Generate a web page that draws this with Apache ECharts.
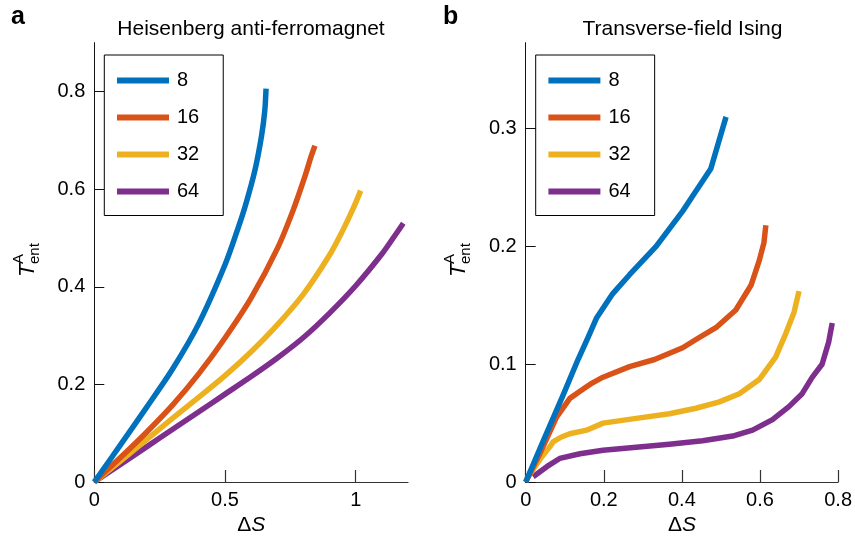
<!DOCTYPE html>
<html>
<head>
<meta charset="utf-8">
<script src="https://cdn.jsdelivr.net/npm/echarts@6/dist/echarts.min.js"></script>
<style>
html, body { margin: 0; padding: 0; background: #fff; }
#main { width: 855px; height: 545px; }
</style>
</head>
<body>
<div id="main"></div>
<script>
// system sizes (legend entries)
var sizes = ['8', '16', '32', '64'];
var colors = ['#0072BD', '#D95319', '#EDB120', '#7E2F8E'];

// panel a: Heisenberg anti-ferromagnet, [ΔS, T]
var heis8 = [[0, 0], [0.1, 0.076], [0.2, 0.153], [0.3, 0.232], [0.4, 0.325], [0.5, 0.445], [0.55, 0.52], [0.58, 0.57], [0.615, 0.64], [0.64, 0.71], [0.652, 0.76], [0.657, 0.806]];
var heis16 = [[0, 0], [0.1, 0.05], [0.2, 0.102], [0.3, 0.158], [0.4, 0.222], [0.5, 0.295], [0.6, 0.377], [0.7, 0.478], [0.76, 0.556], [0.805, 0.625], [0.83, 0.668], [0.844, 0.689]];
var heis32 = [[0, 0], [0.1, 0.043], [0.2, 0.087], [0.3, 0.131], [0.4, 0.174], [0.5, 0.218], [0.6, 0.267], [0.7, 0.322], [0.8, 0.385], [0.9, 0.465], [0.95, 0.515], [0.99, 0.56], [1.019, 0.597]];
var heis64 = [[0, 0], [0.1, 0.036], [0.2, 0.072], [0.3, 0.108], [0.4, 0.144], [0.5, 0.18], [0.6, 0.216], [0.7, 0.254], [0.8, 0.296], [0.9, 0.346], [1.0, 0.402], [1.1, 0.467], [1.15, 0.505], [1.182, 0.53]];

// panel b: transverse-field Ising, [ΔS, T]
var ising8 = [[0, 0], [0.045, 0.035], [0.096, 0.074], [0.134, 0.104], [0.16, 0.123], [0.181, 0.139], [0.223, 0.16], [0.266, 0.176], [0.334, 0.2], [0.402, 0.23], [0.428, 0.243], [0.474, 0.266], [0.513, 0.31]];
var ising16 = [[0, 0], [0.036, 0.024], [0.079, 0.055], [0.113, 0.071], [0.139, 0.077], [0.17, 0.084], [0.198, 0.089], [0.266, 0.098], [0.33, 0.104], [0.402, 0.114], [0.436, 0.121], [0.487, 0.131], [0.538, 0.146], [0.577, 0.167], [0.598, 0.188], [0.61, 0.203], [0.615, 0.218]];
var ising32 = [[0.003, 0.003], [0.036, 0.019], [0.062, 0.03], [0.07, 0.034], [0.09, 0.038], [0.113, 0.041], [0.156, 0.044], [0.198, 0.05], [0.283, 0.054], [0.368, 0.058], [0.436, 0.0626], [0.496, 0.068], [0.547, 0.075], [0.598, 0.087], [0.64, 0.106], [0.666, 0.126], [0.687, 0.144], [0.7, 0.162]];
var ising64 = [[0.019, 0.0045], [0.054, 0.013], [0.087, 0.02], [0.139, 0.024], [0.198, 0.027], [0.283, 0.0295], [0.368, 0.032], [0.453, 0.035], [0.53, 0.039], [0.581, 0.044], [0.632, 0.053], [0.674, 0.064], [0.708, 0.075], [0.734, 0.089], [0.759, 0.1], [0.776, 0.119], [0.785, 0.135]];

// tick labels
var heisXTicks = [0, 0.5, 1];
var heisYTicks = [0, 0.2, 0.4, 0.6, 0.8];
var isingXTicks = [0, 0.2, 0.4, 0.6, 0.8];
var isingYTicks = [0, 0.1, 0.2, 0.3];

var FONT = 'Liberation Sans, Arial, Helvetica, sans-serif';
var axisColor = '#333';

function xAxisOf(grid, max, ticks) {
    return {
        gridIndex: grid,
        type: 'value',
        min: 0,
        max: max,
        axisLine: { show: true, onZero: false, lineStyle: { color: axisColor, width: 1.2 } },
        axisTick: { show: true, inside: true, length: 12, customValues: ticks, lineStyle: { color: axisColor, width: 1.2 } },
        axisLabel: { customValues: ticks, fontSize: 20, margin: 8, color: '#000', fontFamily: FONT },
        splitLine: { show: false },
        name: '{d|Δ}{s|S}',
        nameLocation: 'middle',
        nameGap: 33,
        nameTextStyle: {
            rich: {
                d: { fontSize: 21, fontFamily: FONT, color: '#000' },
                s: { fontSize: 21, fontFamily: FONT, fontStyle: 'italic', color: '#000' }
            }
        }
    };
}

function yAxisOf(grid, max, ticks) {
    return {
        gridIndex: grid,
        type: 'value',
        min: 0,
        max: max,
        axisLine: { show: true, onZero: false, lineStyle: { color: '#111', width: 1 } },
        axisTick: { show: true, inside: true, length: 10, customValues: ticks, lineStyle: { color: '#111', width: 1 } },
        axisLabel: { customValues: ticks, fontSize: 20, margin: 9, color: '#000', fontFamily: FONT },
        splitLine: { show: false }
    };
}

function lineSeries(name, data, idx, grid, smooth) {
    return {
        name: name,
        type: 'line',
        xAxisIndex: grid,
        yAxisIndex: grid,
        data: data,
        showSymbol: false,
        smooth: smooth,
        color: colors[idx],
        lineStyle: { width: 5.5, color: colors[idx], join: 'round' },
        z: 10 - idx
    };
}

function legendOf(left) {
    return {
        orient: 'vertical',
        left: left,
        top: 55,
        data: sizes,
        icon: 'rect',
        itemWidth: 52,
        itemHeight: 6,
        itemGap: 15,
        padding: [14.5, 24, 13, 12.7],
        borderColor: '#000',
        borderWidth: 1,
        selectedMode: false,
        textStyle: { fontSize: 20, lineHeight: 22, color: '#000', fontFamily: FONT, padding: [0, 0, 0, 3] }
    };
}

function yName(x) {
    return {
        type: 'group',
        x: x,
        y: 277,
        rotation: Math.PI / 2,
        children: [
            { type: 'text', x: 0, y: 0, style: { text: 'T', font: 'italic 22px ' + FONT, fill: '#000', textVerticalAlign: 'middle' } },
            { type: 'text', x: 13, y: -9, style: { text: 'A', font: '15px ' + FONT, fill: '#000', textVerticalAlign: 'middle' } },
            { type: 'text', x: 13, y: 7, style: { text: 'ent', font: '15px ' + FONT, fill: '#000', textVerticalAlign: 'middle' } }
        ]
    };
}

var heisData = [heis8, heis16, heis32, heis64];
var isingData = [ising8, ising16, ising32, ising64];
var series = [];
for (var i = 0; i < sizes.length; i++) {
    series.push(lineSeries(sizes[i], heisData[i], i, 0, 0.3));
}
for (var i = 0; i < sizes.length; i++) {
    series.push(lineSeries(sizes[i], isingData[i], i, 1, false));
}

var chart = echarts.init(document.getElementById('main'), null, { renderer: 'canvas' });
chart.setOption({
    animation: false,
    backgroundColor: '#fff',
    textStyle: { fontFamily: FONT },
    grid: [
        { left: 94.3, top: 42.7, width: 313.7, height: 439.3 },
        { left: 525.7, top: 42.7, width: 313.6, height: 439.3 }
    ],
    xAxis: [xAxisOf(0, 1.2, heisXTicks), xAxisOf(1, 0.8, isingXTicks)],
    yAxis: [yAxisOf(0, 0.9, heisYTicks), yAxisOf(1, 0.373, isingYTicks)],
    legend: [legendOf(104.3), legendOf(535.7)],
    graphic: [
        { type: 'text', x: 11, y: 5, style: { text: 'a', font: 'bold 25px ' + FONT, fill: '#000' } },
        { type: 'text', x: 443, y: 5, style: { text: 'b', font: 'bold 25px ' + FONT, fill: '#000' } },
        { type: 'text', x: 251, y: 29, style: { text: 'Heisenberg anti-ferromagnet', font: '21px ' + FONT, fill: '#000', textAlign: 'center', textVerticalAlign: 'middle' } },
        { type: 'text', x: 682.5, y: 29, style: { text: 'Transverse-field Ising', font: '21px ' + FONT, fill: '#000', textAlign: 'center', textVerticalAlign: 'middle' } },
        yName(28),
        yName(459)
    ],
    series: series
});
</script>
</body>
</html>
